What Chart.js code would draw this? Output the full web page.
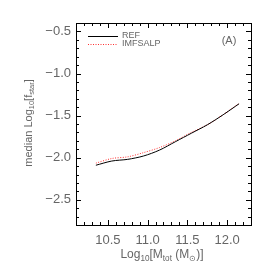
<!DOCTYPE html>
<html><head><meta charset="utf-8">
<script src="https://cdn.jsdelivr.net/npm/chart.js@4"></script>
<style>html,body{margin:0;padding:0;background:#fff}#w{width:274px;height:274px}</style>
</head><body><div id="w"><canvas id="c" width="274" height="274"></canvas></div>
<script>
const massBins = [10.35, 10.55, 10.75, 10.95, 11.15, 11.35, 11.55, 11.75, 11.95, 12.15];
const refValues = [-2.09, -2.04, -2.02, -1.98, -1.91, -1.81, -1.71, -1.61, -1.49, -1.36];
const imfsalpValues = [-2.065, -2.01, -1.99, -1.94, -1.88, -1.80, -1.70, -1.61, -1.49, -1.355];
const xTickLabels = [10.5, 11.0, 11.5, 12.0];
const yTickLabels = [-2.5, -2.0, -1.5, -1.0, -0.5];
const seriesNames = ["REF", "IMFSALP"];
const panelLabel = "(A)";

const FONT = "'Liberation Sans', Arial, sans-serif";
const TXT = '#666';

function drawRich(ctx, parts, x, y, size) {
  let w = 0;
  parts.forEach(p => { ctx.font = (p.sub ? size*0.68 : size) + 'px ' + FONT; w += ctx.measureText(p.t).width; });
  let cx = x - w/2;
  parts.forEach(p => {
    ctx.font = (p.sub ? size*0.68 : size) + 'px ' + FONT;
    ctx.fillText(p.t, cx, y + (p.sub ? size*0.3 : 0));
    cx += ctx.measureText(p.t).width;
  });
}

const deco = {
  id: 'deco',
  afterDraw(chart) {
    const ctx = chart.ctx, a = chart.chartArea, xs = chart.scales.x, ys = chart.scales.y;
    ctx.save();
    ctx.strokeStyle = '#000'; ctx.lineWidth = 1;
    ctx.strokeRect(Math.round(a.left)+0.5, Math.round(a.top)+0.5, Math.round(a.right-a.left), Math.round(a.bottom-a.top));
    ctx.beginPath();
    for (let i = 101; i <= 123; i++) {
      const v = i/10, px = Math.round(xs.getPixelForValue(v))+0.5;
      const L = (i % 5 === 0) ? 5 : 3;
      ctx.moveTo(px, a.bottom); ctx.lineTo(px, a.bottom - L);
      ctx.moveTo(px, a.top); ctx.lineTo(px, a.top + L);
    }
    for (let i = -28; i <= -4; i++) {
      const v = i/10, py = Math.round(ys.getPixelForValue(v))+0.5;
      const L = (i % 5 === 0) ? 5 : 3;
      ctx.moveTo(a.left, py); ctx.lineTo(a.left + L, py);
      ctx.moveTo(a.right, py); ctx.lineTo(a.right - L, py);
    }
    ctx.stroke();
    // legend
    ctx.lineWidth = 1;
    ctx.strokeStyle = '#000'; ctx.setLineDash([]);
    ctx.beginPath(); ctx.moveTo(88, 36.5); ctx.lineTo(118, 36.5); ctx.stroke();
    ctx.strokeStyle = '#ff3030'; ctx.setLineDash([1, 1.5]);
    ctx.beginPath(); ctx.moveTo(88, 44.5); ctx.lineTo(118, 44.5); ctx.stroke();
    ctx.setLineDash([]);
    ctx.fillStyle = TXT; ctx.textBaseline = 'middle'; ctx.textAlign = 'left';
    ctx.font = '9px ' + FONT;
    ctx.fillText(seriesNames[0], 122, 36);
    ctx.fillText(seriesNames[1], 122, 44);
    ctx.font = '11px ' + FONT;
    ctx.textAlign = 'center';
    ctx.fillText(panelLabel, 229, 41);
    // axis titles
    ctx.textAlign = 'left'; ctx.textBaseline = 'middle';
    drawRich(ctx, [{t:'Log'},{t:'10',sub:1},{t:'[M'},{t:'tot',sub:1},{t:' (M'},{t:'\u2299',sub:1},{t:')]'}], 162, 255, 12);
    ctx.translate(29, 123); ctx.rotate(-Math.PI/2);
    drawRich(ctx, [{t:'median Log'},{t:'10',sub:1},{t:'[f'},{t:'star',sub:1},{t:']'}], 0, 0, 11);
    ctx.restore();
  }
};

new Chart(document.getElementById('c'), {
  type: 'line',
  data: {
    labels: massBins,
    datasets: [
      { label: seriesNames[0], data: massBins.map((x,i)=>({x, y: refValues[i]})), borderColor: '#000', borderWidth: 1, pointRadius: 0, fill: false, tension: 0.3 },
      { label: seriesNames[1], data: massBins.map((x,i)=>({x, y: imfsalpValues[i]})), borderColor: '#ff3030', borderWidth: 1, borderDash: [1, 1.5], pointRadius: 0, fill: false, tension: 0.3 }
    ]
  },
  options: {
    responsive: false, animation: false, devicePixelRatio: 1,
    layout: { padding: { top: 23, right: 23, left: 0, bottom: 0 } },
    plugins: { legend: { display: false }, tooltip: { enabled: false } },
    scales: {
      x: {
        type: 'linear', min: 10.1, max: 12.3,
        grid: { display: false, drawTicks: false }, border: { display: false },
        afterBuildTicks(s) { s.ticks = xTickLabels.map(v => ({ value: v })); },
        afterFit(s) { s.height = 49; },
        ticks: { color: TXT, font: { family: FONT, size: 13 }, padding: 8, maxRotation: 0, autoSkip: false, callback: v => Number(v).toFixed(1) }
      },
      y: {
        type: 'linear', min: -2.8, max: -0.4,
        grid: { display: false, drawTicks: false }, border: { display: false },
        afterBuildTicks(s) { s.ticks = yTickLabels.map(v => ({ value: v })); },
        afterFit(s) { s.width = 76; },
        ticks: { color: TXT, font: { family: FONT, size: 13 }, padding: 5, autoSkip: false, callback: v => '\u2212' + Math.abs(v).toFixed(1) }
      }
    }
  },
  plugins: [deco]
});
</script>
</body></html>
